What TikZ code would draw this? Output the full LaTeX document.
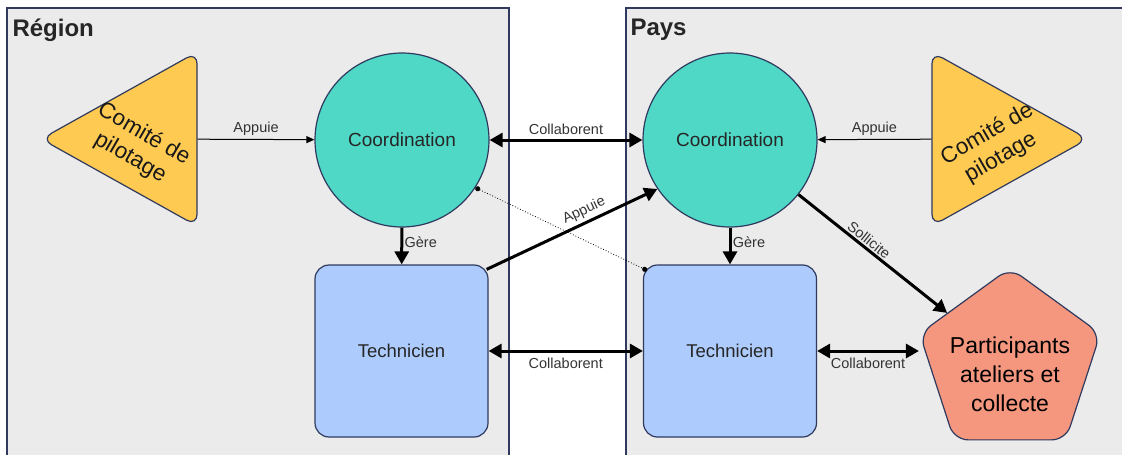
\documentclass[tikz,border=0pt]{standalone}
\usepackage{fontspec}
\setmainfont{Liberation Sans}
\usetikzlibrary{shapes.geometric,arrows.meta}

\definecolor{fond}{HTML}{EBEBEB}
\definecolor{bord}{HTML}{2F3A5E}
\definecolor{turquoise}{HTML}{4FD8C6}
\definecolor{bleu}{HTML}{ADCCFD}
\definecolor{jaune}{HTML}{FECA52}
\definecolor{saumon}{HTML}{F5977F}
\definecolor{texte}{HTML}{333333}

\tikzset{
  grosse/.tip={Triangle[length=13pt,width=14pt]},
  fine/.tip={Triangle[length=8pt,width=7pt]},
  zone/.style={draw=bord, fill=fond, line width=1.2pt},
  titre/.style={anchor=west, font=\bfseries\fontsize{24}{27}\selectfont, text=black!85},
  coord/.style={circle, draw=bord, fill=turquoise, line width=1.2pt, minimum size=174pt, font=\fontsize{19}{22}\selectfont, text=black!85},
  tech/.style={rectangle, rounded corners=14pt, draw=bord, fill=bleu, line width=1.2pt, minimum width=173pt, minimum height=172pt, font=\fontsize{18.5}{22}\selectfont, text=black!85},
  comite/.style={isosceles triangle, isosceles triangle stretches, rounded corners=12pt, draw=bord, fill=jaune, line width=1.2pt, minimum width=174pt, minimum height=156pt, inner sep=0pt},
  comtexte/.style={align=center, font=\fontsize{22.5}{27}\selectfont, text=black!90},
  part/.style={regular polygon, regular polygon sides=5, rounded corners=14pt, draw=bord, fill=saumon, line width=1.2pt, minimum size=190pt, inner sep=0pt},
  lien/.style={line width=1pt, -fine},
  fort/.style={line width=3pt},
  etiq/.style={font=\fontsize{14.5}{16}\selectfont, text=texte},
}

\begin{document}
\begin{tikzpicture}[x=1pt, y=-1pt]
  \clip (0,0) rectangle (1122,455);

  % les deux zones
  \draw[zone] (7,8) rectangle (509,475);
  \draw[zone] (626,8) rectangle (1135,475);
  \node[titre] (titreR) at (9,30) {Région};
  \node[titre] (titreP) at (627,30) {Pays};

  \node[comite, shape border rotate=180, label={[comtexte, xshift=-9pt, yshift=-7pt, rotate=-30]center:Comité de\\pilotage}] (comiteR) at (146,139) {};
  \node[comite, label={[comtexte, xshift=11pt, yshift=-7pt, rotate=30]center:Comité de\\pilotage}] (comiteP) at (983,139) {};

  \node[coord] (coordR) at (402,140) {Coordination};
  \node[coord] (coordP) at (730,140) {Coordination};
  \node[tech] (techR) at (401.5,351) {Technicien};
  \node[tech] (techP) at (730,351) {Technicien};
  \node[part, label={[align=center, font=\fontsize{23}{29}\selectfont, yshift=-11pt]center:Participants\\ateliers et\\collecte}] (part) at (1010,363) {};

  \draw[lien] (comiteR) to node[etiq, above] {Appuie} (coordR);
  \draw[lien] (comiteP) to node[etiq, above] {Appuie} (coordP);
  \draw[fort, grosse-grosse] (coordR) to node[etiq, above, yshift=1pt] {Collaborent} (coordP);
  \draw[fort, -grosse] (coordR) to node[etiq, right, xshift=-2pt, pos=0.4] {Gère} (techR);
  \draw[fort, -grosse] (coordP) to node[etiq, right, xshift=-2pt, pos=0.4] {Gère} (techP);
  \draw[fort, grosse-grosse] (techR) to node[etiq, below, yshift=-2pt] {Collaborent} (techP);
  \draw[fort, grosse-grosse] (techP) to node[etiq, below, yshift=-2pt] {Collaborent} (techP -| part.corner 2);
  \draw[fort, -grosse] ([shift={(-2pt,-5pt)}]techR.north east) to node[etiq, above, sloped, pos=0.6] {Appuie} (coordP.214);
  \draw[fort, -grosse] (coordP) to node[etiq, above, sloped, inner sep=1.5pt, pos=0.44] {Sollicite} (part);

  % lien en pointillé
  \draw[line width=0.8pt, dotted, {Circle[length=5pt]}-{Circle[length=5pt]}] (coordR.-33) to ([shift={(4pt,-6pt)}]techP.north west);
\end{tikzpicture}
\end{document}
